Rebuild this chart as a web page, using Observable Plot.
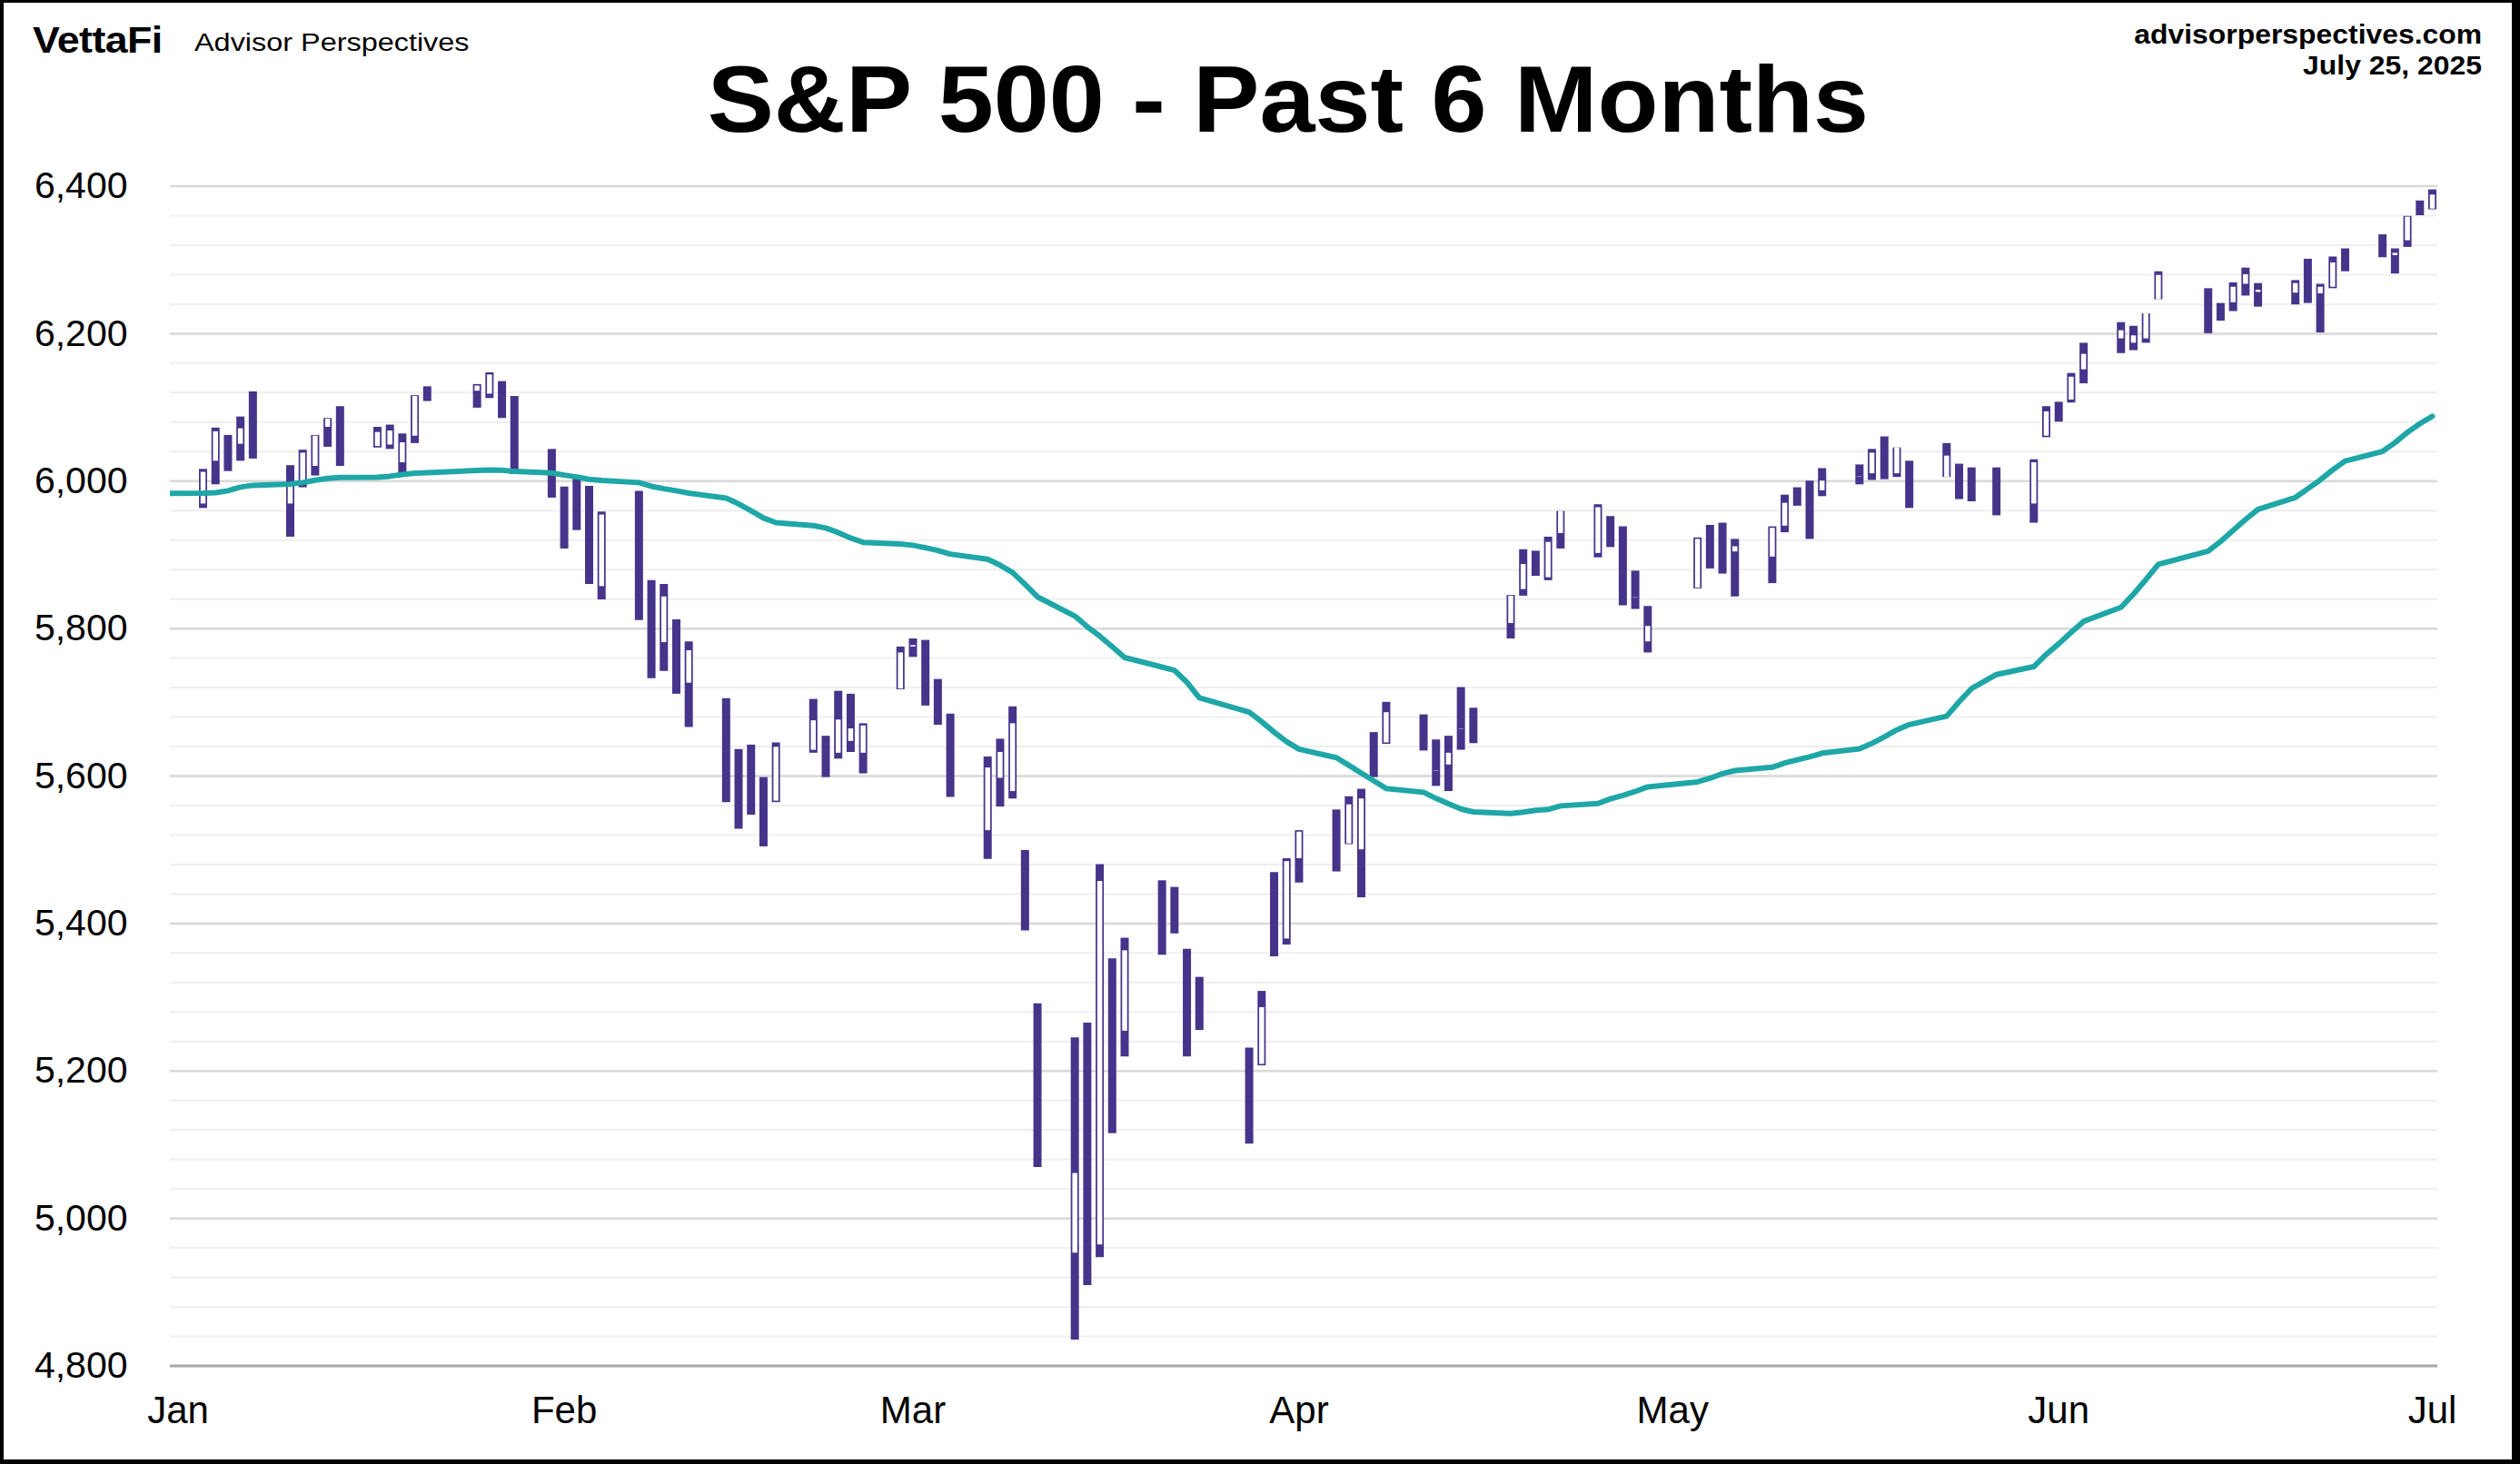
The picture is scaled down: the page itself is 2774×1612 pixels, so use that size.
<!DOCTYPE html>
<html>
<head>
<meta charset="utf-8">
<script src="https://cdn.jsdelivr.net/npm/d3@7"></script>
<script src="https://cdn.jsdelivr.net/npm/@observablehq/plot@0.6"></script>
<style>
html,body{margin:0;padding:0;background:#fff;}
#page{position:relative;width:2774px;height:1612px;overflow:hidden;background:#fff;font-family:"Liberation Sans",Arial,Helvetica,sans-serif;}
.t{position:absolute;white-space:nowrap;line-height:1;color:#000;}
#frame{position:absolute;left:0;top:0;width:2774px;height:1612px;box-sizing:border-box;border-style:solid;border-color:#000;border-width:3px 9px 5px 4px;pointer-events:none;}
#chart{position:absolute;left:0;top:150px;}
</style>
</head>
<body>
<div id="page">
  <div class="t" style="left:36px;top:23.5px;font-size:41px;font-weight:bold;letter-spacing:-0.5px;transform:scaleX(1.09);transform-origin:left center;">VettaFi</div>
  <div class="t" style="left:214px;top:34px;font-size:27px;transform:scaleX(1.2);transform-origin:left center;">Advisor Perspectives</div>
  <div class="t" style="left:0;width:2836px;text-align:center;top:57px;font-size:104px;font-weight:bold;"><span style="display:inline-block;transform:scaleX(1.055);">S&amp;P 500 - Past 6 Months</span></div>
  <div class="t" style="right:42px;top:23.8px;font-size:29px;font-weight:bold;transform:scaleX(1.1);transform-origin:right center;">advisorperspectives.com</div>
  <div class="t" style="right:42px;top:57.5px;font-size:29px;font-weight:bold;transform:scaleX(1.1);transform-origin:right center;">July 25, 2025</div>
  <div id="chart"></div>
  <div id="frame"></div>
</div>
<script>
// ---- data (chart dates as drawn on the axis) ----
const candleDates = [
"2025-01-03","2025-01-04","2025-01-05","2025-01-06","2025-01-07",
"2025-01-10","2025-01-11","2025-01-12","2025-01-13","2025-01-14",
"2025-01-17","2025-01-18","2025-01-19","2025-01-20","2025-01-21",
"2025-01-25","2025-01-26","2025-01-27","2025-01-28",
"2025-01-31","2025-02-01","2025-02-02","2025-02-03","2025-02-04",
"2025-02-07","2025-02-08","2025-02-09","2025-02-10","2025-02-11",
"2025-02-14","2025-02-15","2025-02-16","2025-02-17","2025-02-18",
"2025-02-21","2025-02-22","2025-02-23","2025-02-24","2025-02-25",
"2025-02-28","2025-03-01","2025-03-02","2025-03-03","2025-03-04",
"2025-03-07","2025-03-08","2025-03-09","2025-03-10","2025-03-11",
"2025-03-14","2025-03-15","2025-03-16","2025-03-17","2025-03-18",
"2025-03-21","2025-03-22","2025-03-23","2025-03-24",
"2025-03-28","2025-03-29","2025-03-30","2025-03-31","2025-04-01",
"2025-04-04","2025-04-05","2025-04-06","2025-04-07","2025-04-08",
"2025-04-11","2025-04-12","2025-04-13","2025-04-14","2025-04-15",
"2025-04-18","2025-04-19","2025-04-20","2025-04-21","2025-04-22",
"2025-04-25","2025-04-26","2025-04-27","2025-04-28","2025-04-29",
"2025-05-03","2025-05-04","2025-05-05","2025-05-06",
"2025-05-09","2025-05-10","2025-05-11","2025-05-12","2025-05-13",
"2025-05-16","2025-05-17","2025-05-18","2025-05-19","2025-05-20",
"2025-05-23","2025-05-24","2025-05-25","2025-05-27",
"2025-05-30","2025-05-31","2025-06-01","2025-06-02","2025-06-03",
"2025-06-06","2025-06-07","2025-06-08","2025-06-09",
"2025-06-13","2025-06-14","2025-06-15","2025-06-16","2025-06-17",
"2025-06-20","2025-06-21","2025-06-22","2025-06-23","2025-06-24",
"2025-06-27","2025-06-28","2025-06-29","2025-06-30","2025-07-01"
];
const openVals = [
5969,6027,6058,6050,6081, 5969,5999,6020,6073,6083, 6047,6049,6025,6061,6124, 6122,6118,6134,6114,
6026,5982,5970,5982,5857, 5969,5812,5781,5786,5726, 5682,5603,5625,5594,5566, 5635,5653,5631,5647,5631,
5718,5775,5772,5696,5679, 5526,5597,5579,5493,5291, 4953,5193,4964,5350,5254, 5441,5412,5336,5305,
5231,5209,5396,5379,5488, 5529,5508,5500,5625,5645, 5655,5606,5615,5663,5679, 5807,5853,5896,5869,5929,
5902,5945,5929,5841,5782, 5855,5925,5939,5904, 5897,5939,5979,5986,5987, 6005,6010,6049,6010,6001,
6005,6012,5988,6000, 5969,6061,6104,6110,6151, 6193,6187,6193,6246, 6259,6232,6242,6267,6256,
6255,6295,6254,6263,6312, 6304,6306,6326,6369,6369
];
const highVals = [
6016,6072,6062,6087,6121, 6021,6042,6062,6085,6101, 6073,6076,6064,6116,6128, 6131,6147,6135,6115,
6043,5992,6006,5993,5958, 5986,5865,5860,5812,5782, 5705,5636,5642,5598,5645, 5704,5654,5715,5711,5671,
5775,5786,5784,5731,5684, 5626,5650,5694,5499,5291, 5245,5265,5480,5352,5380, 5458,5449,5365,5327,
5231,5308,5469,5488,5526, 5554,5572,5582,5659,5700, 5683,5649,5654,5720,5692, 5845,5907,5905,5924,5959,
5968,5952,5938,5878,5830, 5923,5940,5943,5921, 5938,5981,5991,6000,6017, 6022,6043,6060,6045,6027,
6051,6023,6018,6018, 6029,6101,6107,6146,6187, 6215,6210,6227,6284, 6261,6241,6269,6289,6268,
6272,6301,6267,6304,6315, 6334,6315,6359,6380,6395
];
const lowVals = [
5963,5995,6013,6027,6030, 5924,5991,6007,6046,6020, 6045,6043,6010,6051,6108, 6099,6112,6085,6009,
5977,5908,5933,5860,5839, 5811,5732,5742,5711,5666, 5564,5528,5547,5504,5564, 5631,5598,5623,5632,5603,
5717,5761,5695,5669,5571, 5487,5558,5569,5390,5069, 4835,4909,4947,5115,5219, 5357,5386,5219,5255,
5101,5207,5355,5371,5455, 5470,5507,5435,5598,5643, 5634,5586,5579,5635,5644, 5786,5844,5871,5865,5908,
5896,5910,5831,5826,5767, 5854,5881,5874,5843, 5861,5930,5966,5921,5979, 5995,6001,6002,6005,5963,
6005,5975,5972,5953, 5943,6059,6080,6106,6132, 6173,6177,6187,6246, 6200,6217,6230,6251,6236,
6239,6241,6201,6261,6284, 6303,6281,6317,6360,6368
];
const closeVals = [
6012,6067,6039,6071,6041, 5994,6038,6061,6084,6026, 6066,6068,6052,6115,6114, 6129,6144,6117,6013,
5983,5955,5956,5861,5954, 5850,5778,5843,5739,5770, 5615,5572,5599,5521,5639, 5675,5615,5676,5664,5668,
5767,5777,5712,5693,5581, 5611,5632,5671,5397,5074, 5061,4983,5457,5268,5363, 5406,5397,5276,5283,
5158,5286,5376,5484,5524, 5528,5561,5569,5604,5686, 5650,5607,5631,5664,5660, 5844,5887,5893,5917,5959,
5964,5940,5845,5842,5803, 5921,5889,5912,5911, 5936,5970,5971,5939,6000, 6006,6038,6022,6045,5977,
6034,5983,5981,5968, 6025,6094,6092,6141,6172, 6204,6197,6227,6279, 6230,6226,6263,6280,6259,
6268,6244,6263,6296,6297, 6305.5,6309,6358,6363,6388
];
// 50-day moving average
const maDates = ["2024-12-31"].concat(candleDates);
const maVals = [
5983.5,
5983.6,5984.4,5986.9,5991.8,5994.3, 5995.9,5998,6001.2,6003.7,6005, 6005.3,6006.6,6009,6010.7,6011.5,
6014.4,6015.2,6014.8,6013.1, 6011,6008.2,6005.7,6002.5,6000.8, 5998,5993,5989.7,5986.9,5983.6,
5977,5969.2,5959.8,5950,5943.7, 5939.6,5936.4,5930.2,5922.8,5917, 5914.6,5913,5909.7,5906,5901,
5894,5886,5876,5860,5843, 5817,5802.6,5789.7,5775.5,5760.7, 5747.8,5743.3,5727.2,5706,
5686.6,5673.8,5659.6,5646.7,5636.5, 5625,5614.7,5604,5593.5,5583, 5578,5569.7,5562.4,5555.4,5551.3,
5549.3,5551,5553.4,5554.6,5559.5, 5562.8,5569,5573.8,5579.1,5585.3, 5592,5597,5603.3,5607.4,
5611.9,5617.6,5622,5626,5631, 5637,5644.2,5653.1,5662.6,5669.8, 5681.1,5700.7,5718.6,5737.7,
5748.4,5765.1,5779.4,5794.9,5809.8, 5828.8,5846.7,5866.4,5887.2, 5905.1,5918.2,5933.1,5948,5961.7,
5977.8,5989.7,6001.6,6015.3,6027.2, 6040.3,6052.2,6066,6077.9,6088
];
const yTickValues = [4800,5000,5200,5400,5600,5800,6000,6200,6400];
const monthTickDates = ["2025-01-01","2025-02-01","2025-03-01","2025-04-01","2025-05-01","2025-06-01","2025-07-01"];
const monthLabels = ["Jan","Feb","Mar","Apr","May","Jun","Jul"];

// ---- build ----
const parse = d3.utcParse("%Y-%m-%d");
const candles = candleDates.map((d, i) => ({date: parse(d), open: openVals[i], high: highVals[i], low: lowVals[i], close: closeVals[i]}));
const upBig = candles.filter(d => d.close > d.open && d.close - d.open >= 2);
const upSmall = candles.filter(d => d.close > d.open && d.close - d.open < 2);
const ma = maDates.map((d, i) => ({date: parse(d), value: maVals[i]}));
const monthTicks = monthTickDates.map(parse);
const minorGrid = d3.range(4840, 6400, 40);

const purple = "#46348b";
const teal = "#1fa6a6";

const chart = Plot.plot({
  width: 2774,
  height: 1462,
  marginLeft: 187,
  marginRight: 91,
  marginTop: 54.5,
  marginBottom: 108.5,
  style: {fontFamily: '"Liberation Sans", Arial, Helvetica, sans-serif', background: "transparent", color: "#000", fontSize: "41px"},
  x: {type: "utc", domain: [parse("2025-01-01"), parse("2025-07-01")], insetLeft: 8.6, insetRight: 6},
  y: {domain: [4800, 6400]},
  marks: [
    Plot.ruleY(minorGrid, {stroke: "#efefef", strokeWidth: 2}),
    Plot.ruleY(yTickValues.filter(v => v > 4800), {stroke: "#d9d9d9", strokeWidth: 2.5}),
    Plot.ruleY([4800], {stroke: "#a6a6a6", strokeWidth: 3}),
    Plot.axisY(yTickValues, {tickSize: 0, tickPadding: 47, tickFormat: d3.format(","), fontSize: 41, label: null}),
    Plot.axisX(monthTicks, {tickSize: 0, tickPadding: 33, tickFormat: d => monthLabels[d.getUTCMonth()], fontSize: 42, label: null}),
    Plot.ruleX(candles, {x: "date", y1: "low", y2: "high", stroke: purple, strokeWidth: 9}),
    Plot.ruleX(upBig, {x: "date", y1: "open", y2: "close", stroke: "#ffffff", strokeWidth: 5.5}),
    Plot.ruleX(upSmall, {x: "date", y1: "open", y2: "close", stroke: "#ffffff", strokeWidth: 5.5, insetTop: -0.6, insetBottom: -0.6}),
    Plot.line(ma, {x: "date", y: "value", stroke: teal, strokeWidth: 6, clip: true, strokeLinejoin: "round", strokeLinecap: "round"})
  ]
});
document.getElementById("chart").appendChild(chart);
</script>
</body>
</html>
